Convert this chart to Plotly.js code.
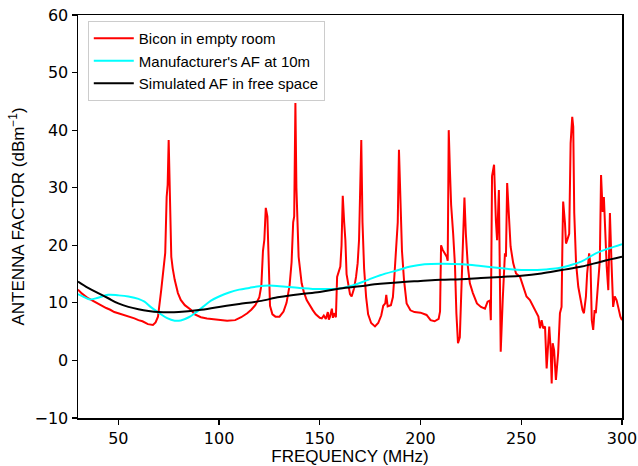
<!DOCTYPE html>
<html>
<head>
<meta charset="utf-8">
<script src="https://cdn.plot.ly/plotly-3.0.1.min.js"></script>
<style>html,body{margin:0;padding:0;background:#fff;}#chart{width:638px;height:466px;}</style>
</head>
<body>
<div id="chart"></div>
<script>
const redFreq = [30,32,35,38,40,44,46,48,50,53,55,58,60,62,64.7,66,67.2,68.5,69.7,71.3,72.3,73.3,74.0,74.5,75.0,75.4,75.8,76.3,77,78,79.6,81,83,86,88,91,94,97,100,104,108,111,114,116,118,120,121,121.8,122.5,123.2,124.0,124.6,125.3,126.5,128,130,132,133.5,135,136,136.8,137.3,137.9,138.4,139,139.5,141,142,143.5,145,146.6,148,150,151,152,153,154,154.5,155,156,156.5,157,158,158.6,159.5,160.2,160.8,161.4,162.1,162.7,163.3,164.2,165,165.8,167,168,168.8,169.5,170.2,170.6,171.2,172,173,174,175.5,177.4,179,180.5,181.5,182.5,183,183.7,185.3,186.3,187,188,188.7,189.3,190,190.8,191.8,193.1,195,197,200,203,205,207,209,209.7,210.2,211,212,213,213.5,214,214.6,215.2,216.2,217.1,217.8,218.6,219.5,220.4,221.2,221.8,222.5,223.5,224.5,226,228,230,232,233.3,234.4,234.9,235.5,236.5,237.4,238,238.9,239.8,240.8,241.9,242.4,243,243.8,244.7,246,247.4,249.4,251,252.6,254.3,256,257.3,258.5,259.3,260.1,260.9,261.8,262.6,263.4,263.9,264.6,265.1,265.6,266.3,267.2,268.3,269.2,270,270.5,270.8,271.7,272.2,272.8,273.8,274.5,275.3,275.8,276.3,277.2,278.3,279.5,280.4,281.1,282.1,282.7,283.7,284.4,285,285.7,286.4,287,288.2,289,289.6,290.4,291,291.7,292.4,293.2,294.0,294.8,295.6,296.4,297.3,298.1,299.2,300];
const redAF = [12.3,11.6,10.8,10.2,9.9,9.1,8.8,8.4,8.2,7.9,7.6,7.3,7.0,6.8,6.3,6.2,6.15,6.6,7.6,12.2,15,18.7,28.4,30.5,38.3,30,28.4,18,16,14,11.7,10.5,9.6,8.8,8.0,7.5,7.3,7.2,7.0,6.9,7.0,7.5,8.2,8.8,9.6,11,13,19,21,26.5,25,15,9.5,8.0,7.6,7.6,8.5,10,13,17,24,25,44.7,30,21,18,13.4,12,10.5,9.5,8.7,8.0,7.4,7.3,7.8,7.2,8.4,7.1,7.5,9.0,7.4,8.2,7.5,14.5,15.5,16.3,20,28.6,24,20.9,15,12.8,11.5,11.1,12.5,14.5,16.9,21,32,38.3,24,16,11,8,6.5,5.9,6.5,7.8,9.5,9.9,11.4,9.4,9.6,11,14.5,20,24,36.6,26,19,14,9.9,8.7,8.4,8.3,7.9,7.0,6.8,7.2,8.5,20.0,19.2,18.6,18.0,17.3,40,33,27,22,16.5,8.2,3.0,4.0,14,24,28.3,22,16.3,13.4,11.7,9.9,9.3,9.0,10.2,10.4,7.0,32,34.0,24.4,20.9,29.6,1.5,10.5,18.6,18,30.8,25.6,19.8,16.9,15.1,14.5,12.8,11.1,10.5,9.3,8.2,7.6,5.6,7.0,5.6,5.9,-1.4,3.0,5.9,1.8,-4.0,3.0,1.8,-3.4,1.2,8.2,9.3,22,27.6,23.8,20.3,20.9,22,37.7,42.3,40.6,25.6,16.9,12.8,10.5,8.75,8.2,11.1,15.1,18.6,16.3,7.0,5.3,8.75,8.2,14,17.4,32.2,25.8,28.4,22,16.3,12.2,25.6,16.9,9.3,11.1,10.5,9.3,7.6,7.0];

const cyanFreq = [30,33,36,40,45,50,55,60,63,66,70,74,78,81,85,88,92,96,100,105,110,115,120,125,130,140,150,160,166,174,180,189,195,202,210,221,230,238,246,254,262,268,274,280,287,293,300];
const cyanAF = [11.5,11.0,10.6,10.9,11.4,11.3,11.1,10.7,10.2,9.3,8.3,7.4,6.9,6.95,7.5,8.2,9.3,10.4,11.1,11.8,12.3,12.6,12.9,13.0,12.9,12.6,12.4,12.5,13.0,14.0,14.8,15.7,16.3,16.7,16.8,16.7,16.4,16.1,15.8,15.7,15.8,16.0,16.5,17.2,18.6,19.4,20.2];

const blackFreq = [30,35,40,45,50,55,60,65,70,75,80,90,100,110,120,130,140,150,160,170,180,190,200,210,220,230,240,250,260,270,280,290,300];
const blackAF = [13.7,12.6,11.7,10.8,9.9,9.3,8.9,8.6,8.4,8.35,8.4,8.75,9.3,9.8,10.3,11.0,11.5,11.9,12.5,12.9,13.3,13.6,13.8,14.0,14.1,14.3,14.5,14.7,15.1,15.7,16.3,17.2,18.0];

const seriesNames = ["Bicon in empty room", "Manufacturer's AF at 10m", "Simulated AF in free space"];
const yTicks = [-10,0,10,20,30,40,50,60];
const xTicks = [50,100,150,200,250,300];

const traces = [
  {x: redFreq, y: redAF, name: seriesNames[0], mode: 'lines', line: {color: '#ff0000', width: 2}},
  {x: cyanFreq, y: cyanAF, name: seriesNames[1], mode: 'lines', line: {color: '#00ffff', width: 2, shape: 'spline'}},
  {x: blackFreq, y: blackAF, name: seriesNames[2], mode: 'lines', line: {color: '#000000', width: 2, shape: 'spline'}}
];

const axisCommon = {
  showline: true, linecolor: '#000', linewidth: 1.5, mirror: true,
  ticks: 'outside', ticklen: 5, tickwidth: 1.2, tickcolor: '#000',
  showgrid: false, zeroline: false,
  tickfont: {family: 'DejaVu Sans', size: 16, color: '#000'}
};

const layout = {
  width: 638, height: 466,
  margin: {l: 78, r: 16, t: 15, b: 48},
  paper_bgcolor: '#fff', plot_bgcolor: '#fff',
  showlegend: true,
  legend: {
    x: 0.018, y: 0.985, xanchor: 'left', yanchor: 'top',
    bgcolor: 'rgba(255,255,255,0.9)', bordercolor: '#cccccc', borderwidth: 1,
    font: {family: 'Liberation Sans', size: 15, color: '#000'},
    itemwidth: 40,
    tracegroupgap: 0
  },
  xaxis: Object.assign({}, axisCommon, {
    range: [30, 300], tickvals: xTicks,
    title: {text: 'FREQUENCY (MHz)', font: {family: 'Liberation Sans', size: 17, color: '#000'}, standoff: 4}
  }),
  yaxis: Object.assign({}, axisCommon, {
    range: [-10, 60], tickvals: yTicks,
    title: {text: 'ANTENNA FACTOR (dBm<sup>−1</sup>)', font: {family: 'Liberation Sans', size: 17, color: '#000'}, standoff: 5}
  })
};

Plotly.newPlot('chart', traces, layout, {displayModeBar: false, staticPlot: true});
</script>
</body>
</html>
